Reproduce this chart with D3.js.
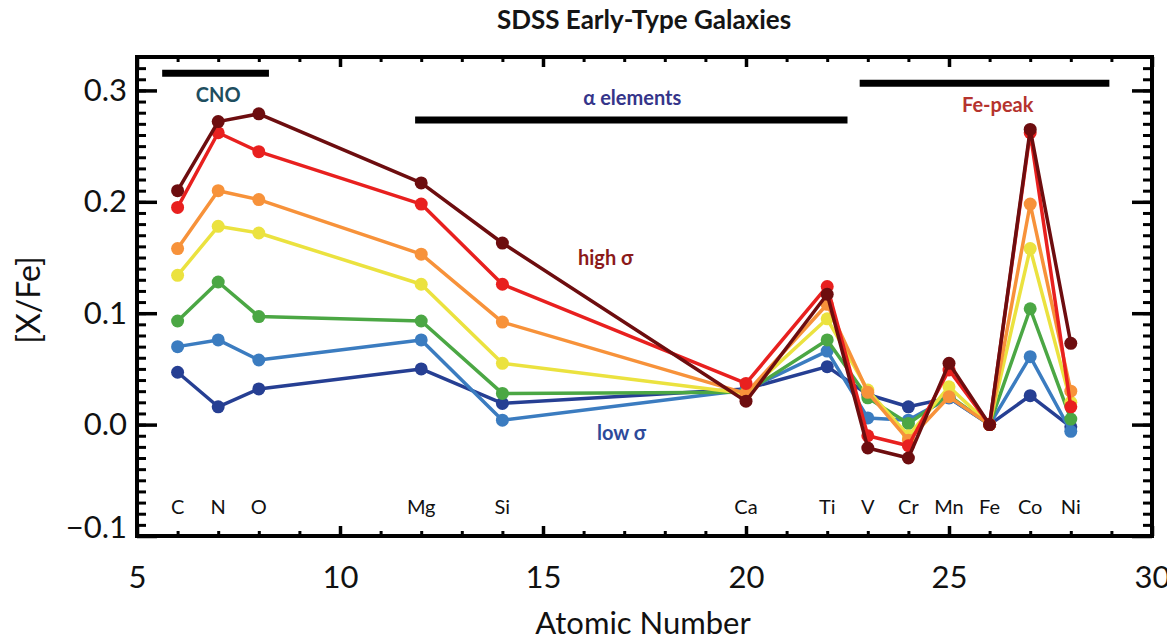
<!DOCTYPE html>
<html>
<head>
<meta charset="utf-8">
<script src="https://cdn.jsdelivr.net/npm/d3@7"></script>
<style>
  html, body { margin: 0; padding: 0; background: #fff; }
  svg { display: block; font-family: Lato, "Open Sans", sans-serif; }
</style>
</head>
<body>
<svg id="chart" width="1167" height="640"></svg>
<script>
// Elements and their atomic numbers
const elements = ["C", "N", "O", "Mg", "Si", "Ca", "Ti", "V", "Cr", "Mn", "Fe", "Co", "Ni"];
const atomicNumbers = [6, 7, 8, 12, 14, 20, 22, 23, 24, 25, 26, 27, 28];

// [X/Fe] per velocity-dispersion bin, lowest sigma first
const sigmaBin1 = [0.047, 0.016, 0.032, 0.050, 0.019, 0.032, 0.052, 0.027, 0.016, 0.024, 0.0, 0.026, -0.002];
const sigmaBin2 = [0.070, 0.076, 0.058, 0.076, 0.004, 0.031, 0.066, 0.006, 0.004, 0.024, 0.0, 0.061, -0.006];
const sigmaBin3 = [0.093, 0.128, 0.097, 0.093, 0.028, 0.029, 0.076, 0.024, 0.001, 0.026, 0.0, 0.104, 0.005];
const sigmaBin4 = [0.134, 0.178, 0.172, 0.126, 0.055, 0.028, 0.095, 0.031, -0.010, 0.034, 0.0, 0.158, 0.020];
const sigmaBin5 = [0.158, 0.210, 0.202, 0.153, 0.092, 0.028, 0.108, 0.029, -0.014, 0.025, 0.0, 0.198, 0.030];
const sigmaBin6 = [0.195, 0.262, 0.245, 0.198, 0.126, 0.037, 0.124, -0.010, -0.019, 0.049, 0.0, 0.262, 0.016];
const sigmaBin7 = [0.210, 0.272, 0.279, 0.217, 0.163, 0.021, 0.117, -0.021, -0.030, 0.055, 0.0, 0.265, 0.073];

const seriesValues = [sigmaBin1, sigmaBin2, sigmaBin3, sigmaBin4, sigmaBin5, sigmaBin6, sigmaBin7];
const seriesColors = ["#263f93", "#3b7cc0", "#4ba744", "#ebe23f", "#f7923a", "#e8201f", "#6d0d0f"];

// Element groups: label and atomic-number span of the bar
const groupNames = ["CNO", "\u03b1 elements", "Fe-peak"];
const groupStart = [5.62, 11.85, 22.8];
const groupEnd = [8.25, 22.5, 28.95];
const groupBarValue = [0.3155, 0.2735, 0.3065];
const groupLabelX = [7.0, 17.2, 26.2];
const groupLabelValue = [0.296, 0.2935, 0.2865];
const groupColors = ["#1f4e5f", "#35358a", "#b5332e"];

const xTicks = [5, 10, 15, 20, 25, 30];
const yTicks = [-0.1, 0.0, 0.1, 0.2, 0.3];

const svg = d3.select("#chart");
const x = d3.scaleLinear().domain([5, 30]).range([137, 1152]);
const y = d3.scaleLinear().domain([-0.1, 0.33]).range([536, 57]);

// Title
svg.append("text")
  .attr("x", 644).attr("y", 29)
  .attr("text-anchor", "middle")
  .attr("font-size", 26).attr("font-weight", 700)
  .attr("fill", "#151515")
  .text("SDSS Early-Type Galaxies");

// Minor and major ticks on all four sides, pointing inward
const minorX = d3.range(5, 31, 1);
const minorY = d3.range(0, 44).map(i => -0.1 + i * 0.01);

function addTicks(makeAxis, transform, major, minor, majorLen, minorLen) {
  [[minor, minorLen, 3], [major, majorLen, 3.5]].forEach(([vals, len, w]) => {
    const g = svg.append("g").attr("transform", transform)
      .call(makeAxis().tickValues(vals).tickSize(-len).tickFormat(""));
    g.selectAll("line").attr("stroke", "#000").attr("stroke-width", w);
    g.select(".domain").remove();
  });
}
addTicks(() => d3.axisBottom(x), `translate(0,${y(-0.1)})`, xTicks, minorX, 10, 5);
addTicks(() => d3.axisTop(x), `translate(0,${y(0.33)})`, xTicks, minorX, 10, 5);
addTicks(() => d3.axisLeft(y), `translate(${x(5)},0)`, yTicks, minorY, 20, 9);
addTicks(() => d3.axisRight(y), `translate(${x(30)},0)`, yTicks, minorY, 20, 9);

// Frame
svg.append("rect")
  .attr("x", x(5)).attr("y", y(0.33))
  .attr("width", x(30) - x(5)).attr("height", y(-0.1) - y(0.33))
  .attr("fill", "none").attr("stroke", "#000").attr("stroke-width", 4);

// Tick labels
const xLab = svg.append("g").attr("transform", `translate(0,${y(-0.1)})`)
  .call(d3.axisBottom(x).tickValues(xTicks).tickSize(0).tickPadding(30).tickFormat(d3.format("d")));
xLab.select(".domain").remove();
xLab.selectAll("text").attr("font-size", 31).attr("font-family", "Lato").attr("fill", "#111");

const yLab = svg.append("g").attr("transform", `translate(${x(5)},0)`)
  .call(d3.axisLeft(y).tickValues(yTicks).tickSize(0).tickPadding(10)
    .tickFormat(d => d3.format(".1f")(d).replace("-", "\u2212")));
yLab.select(".domain").remove();
yLab.selectAll("text").attr("font-size", 31).attr("font-family", "Lato").attr("fill", "#111");
// the bottom label sits just above the lower frame edge
yLab.selectAll("text").filter(d => d < -0.05).attr("dy", "0.05em");

// Axis titles
svg.append("text")
  .attr("x", 643).attr("y", 634)
  .attr("text-anchor", "middle").attr("font-size", 31).attr("fill", "#111")
  .text("Atomic Number");
svg.append("text")
  .attr("transform", "translate(40,300) rotate(-90)")
  .attr("text-anchor", "middle").attr("font-size", 32).attr("fill", "#111")
  .text("[X/Fe]");

// Element symbols along the bottom
svg.append("g").selectAll("text")
  .data(elements)
  .join("text")
  .attr("x", (d, i) => x(atomicNumbers[i]))
  .attr("y", 514)
  .attr("text-anchor", "middle").attr("font-size", 20).attr("fill", "#111")
  .text(d => d);

// Group bars and labels
groupNames.forEach((name, i) => {
  svg.append("line")
    .attr("x1", x(groupStart[i])).attr("x2", x(groupEnd[i]))
    .attr("y1", y(groupBarValue[i])).attr("y2", y(groupBarValue[i]))
    .attr("stroke", "#000").attr("stroke-width", 7);
  svg.append("text")
    .attr("x", x(groupLabelX[i])).attr("y", y(groupLabelValue[i]))
    .attr("text-anchor", "middle").attr("dy", "0.35em")
    .attr("font-size", 20).attr("font-weight", 700)
    .attr("fill", groupColors[i])
    .text(name);
});

// Sigma annotations
svg.append("text").attr("x", 578).attr("y", 265)
  .attr("font-size", 20).attr("font-weight", 700).attr("fill", "#8b1a1a")
  .text("high \u03c3");
svg.append("text").attr("x", 597).attr("y", 440)
  .attr("font-size", 20).attr("font-weight", 700).attr("fill", "#2d4a9a")
  .text("low \u03c3");

// Abundance patterns, lowest sigma drawn first
const line = d3.line().x(d => x(d.z)).y(d => y(d.v));
seriesValues.forEach((vals, s) => {
  const pts = vals.map((v, i) => ({ z: atomicNumbers[i], v }));
  const g = svg.append("g");
  g.append("path")
    .attr("d", line(pts))
    .attr("fill", "none").attr("stroke", seriesColors[s])
    .attr("stroke-width", 3.5).attr("stroke-linejoin", "round");
  g.selectAll("circle").data(pts).join("circle")
    .attr("cx", d => x(d.z)).attr("cy", d => y(d.v))
    .attr("r", 6.5).attr("fill", seriesColors[s]);
});
</script>
</body>
</html>
